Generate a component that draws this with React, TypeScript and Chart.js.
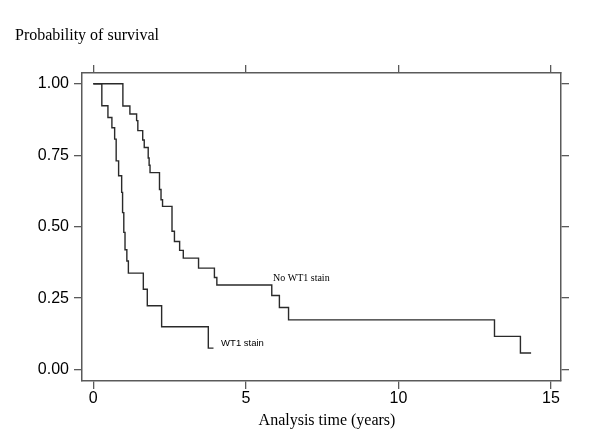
import React, { useEffect, useRef } from "react";
import { Chart, registerables } from "chart.js";

Chart.register(...registerables);

// ---- data ----
const wt1Times = [0, 0.28, 0.48, 0.61, 0.70, 0.75, 0.83, 0.93, 0.96, 1.0, 1.04, 1.1, 1.15, 1.64, 1.77, 2.24, 3.77, 3.94];
const wt1Surv = [1, 0.923, 0.882, 0.846, 0.806, 0.73, 0.678, 0.62, 0.549, 0.48, 0.419, 0.38, 0.3375, 0.281, 0.223, 0.15, 0.075, 0.075];

const noWt1Times = [0, 0.97, 1.2, 1.42, 1.46, 1.62, 1.67, 1.8, 1.83, 1.86, 2.17, 2.22, 2.27, 2.58, 2.66, 2.83, 2.95, 3.45, 3.97, 4.05, 5.85, 6.1, 6.4, 13.15, 14.0, 14.35];
const noWt1Surv = [1, 0.922, 0.894, 0.871, 0.836, 0.803, 0.777, 0.74, 0.715, 0.689, 0.63, 0.594, 0.571, 0.484, 0.448, 0.417, 0.39, 0.355, 0.322, 0.296, 0.259, 0.217, 0.174, 0.116, 0.058, 0.058];

const xTickValues = [0, 5, 10, 15];
const yTickValues = [0, 0.25, 0.5, 0.75, 1];

const seriesNames = ["WT1 stain", "No WT1 stain"];
const yTitle = "Probability of survival";
const xTitle = "Analysis time (years)";

const toPoints = (t: number[], s: number[]) => t.map((v, i) => ({ x: v, y: s[i] }));

const AXIS_COLOR = "#5a5a5a";
const LINE_COLOR = "#2a2a2a";

const textPlugin = {
  id: "kmTexts",
  afterDraw(chart: any) {
    const ctx = chart.ctx;
    const xs = chart.scales.x;
    const ys = chart.scales.y;
    ctx.save();
    ctx.fillStyle = "#000";
    ctx.textBaseline = "alphabetic";
    ctx.font = '16px "Liberation Serif"';
    ctx.textAlign = "left";
    ctx.fillText(yTitle, 15, 40);
    ctx.textAlign = "center";
    ctx.fillText(xTitle, 327, 425);

    ctx.textAlign = "left";
    ctx.textBaseline = "middle";
    ctx.font = '10px "Liberation Serif"';
    ctx.fillText(seriesNames[1], xs.getPixelForValue(5.89), ys.getPixelForValue(0.318));
    ctx.font = '9.5px "Liberation Sans"';
    ctx.fillText(seriesNames[0], xs.getPixelForValue(4.19), ys.getPixelForValue(0.092));
    ctx.restore();
  },
};

function fixedSize(size: number, horizontal: boolean) {
  return (scale: any) => {
    if (horizontal) scale.height = size;
    else scale.width = size;
  };
}

function setTicks(values: number[]) {
  return (scale: any) => {
    scale.ticks = values.map((v) => ({ value: v }));
  };
}

export default function App() {
  const ref = useRef<HTMLCanvasElement | null>(null);

  useEffect(() => {
    if (!ref.current) return;
    const xRange = { min: -0.37, max: 15.33 };
    const yRange = { min: -0.04, max: 1.0375 };
    const grid = {
      drawOnChartArea: false,
      drawTicks: true,
      tickLength: 8,
      color: AXIS_COLOR,
      lineWidth: 1.3,
    };
    const border = { display: true, color: AXIS_COLOR, width: 1.5 };
    const labelFont = { family: '"Liberation Sans"', size: 16 };

    const chart = new Chart(ref.current, {
      type: "line",
      data: {
        datasets: [
          {
            label: seriesNames[0],
            data: toPoints(wt1Times, wt1Surv),
            borderColor: LINE_COLOR,
            borderWidth: 1.4,
            stepped: "before",
            pointRadius: 0,
            fill: false,
          },
          {
            label: seriesNames[1],
            data: toPoints(noWt1Times, noWt1Surv),
            borderColor: LINE_COLOR,
            borderWidth: 1.4,
            stepped: "before",
            pointRadius: 0,
            fill: false,
          },
        ],
      },
      options: {
        animation: false,
        responsive: false,
        devicePixelRatio: 1,
        layout: { padding: 0 },
        plugins: {
          legend: { display: false },
          title: { display: false },
          tooltip: { enabled: false },
        },
        scales: {
          x: {
            type: "linear",
            position: "bottom",
            ...xRange,
            grid,
            border,
            afterBuildTicks: setTicks(xTickValues),
            afterFit: fixedSize(64, true),
            ticks: {
              color: "#000",
              font: labelFont,
              padding: 0,
              maxRotation: 0,
              callback: (v: any) => String(v),
            },
          },
          x2: {
            type: "linear",
            position: "top",
            ...xRange,
            grid,
            border,
            afterBuildTicks: setTicks(xTickValues),
            afterFit: fixedSize(73, true),
            ticks: { callback: () => "", font: labelFont },
          },
          y: {
            type: "linear",
            position: "left",
            ...yRange,
            grid,
            border,
            afterBuildTicks: setTicks(yTickValues),
            afterFit: fixedSize(82, false),
            ticks: {
              color: "#000",
              font: labelFont,
              padding: 5,
              callback: (v: any) => Number(v).toFixed(2),
            },
          },
          y2: {
            type: "linear",
            position: "right",
            ...yRange,
            grid,
            border,
            afterBuildTicks: setTicks(yTickValues),
            afterFit: fixedSize(39, false),
            ticks: { callback: () => "", font: labelFont },
          },
        },
      } as any,
      plugins: [textPlugin],
    });
    return () => chart.destroy();
  }, []);

  return (
    <div style={{ position: "absolute", left: 0, top: 0, width: 600, height: 445, background: "#fff" }}>
      <canvas ref={ref} width={600} height={445} style={{ display: "block", width: 600, height: 445 }} />
    </div>
  );
}
